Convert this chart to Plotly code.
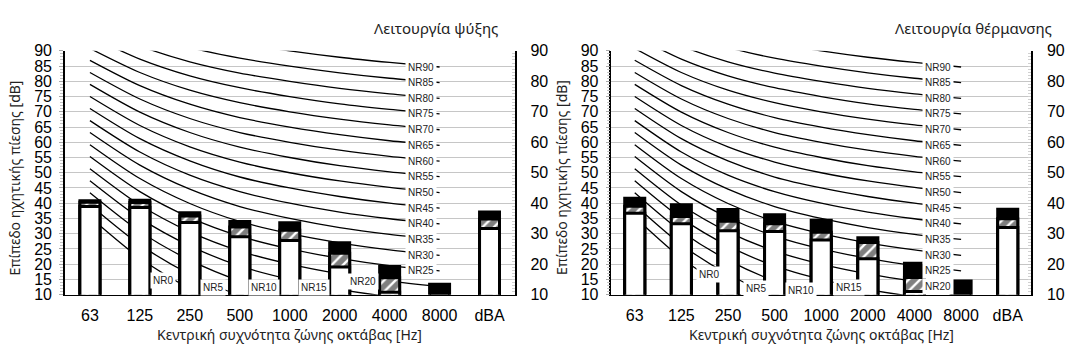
import plotly.graph_objects as go

# Octave-band centre frequencies plus the A-weighted total
bands = ["63", "125", "250", "500", "1000", "2000", "4000", "8000", "dBA"]
octaves = bands[:8]

# Cooling mode: top of black cap, top of hatched band, top of open bar [dB]
cool_total = [40.8, 41.0, 36.9, 34.0, 33.6, 27.0, 19.2, 13.4, 37.1]
cool_hatch = [40.3, 40.2, 35.8, 32.2, 31.1, 23.6, 15.5, 0.0, 34.8]
cool_open = [38.9, 38.6, 33.7, 29.0, 27.8, 19.1, 10.8, 0.0, 31.7]

# Heating mode
heat_total = [41.6, 39.5, 37.9, 36.2, 34.4, 28.7, 20.3, 14.5, 38.0]
heat_hatch = [39.0, 35.6, 34.1, 33.3, 30.5, 27.1, 15.6, 0.0, 34.9]
heat_open = [36.7, 33.3, 31.0, 30.7, 27.9, 21.8, 11.0, 0.0, 32.0]

# Noise Rating curves, 63 Hz ... 8 kHz
nr_00 = [35.5, 22.0, 12.0, 4.8, 0.0, -3.5, -6.1, -8.0]
nr_05 = [39.5, 26.4, 16.7, 9.7, 5.0, 1.6, -1.0, -2.9]
nr_10 = [43.4, 30.7, 21.3, 14.5, 10.0, 6.7, 4.2, 2.3]
nr_15 = [47.4, 35.1, 26.0, 19.4, 15.0, 11.7, 9.3, 7.5]
nr_20 = [51.3, 39.4, 30.6, 24.3, 20.0, 16.8, 14.4, 12.6]
nr_25 = [55.3, 43.8, 35.3, 29.2, 25.0, 21.9, 19.5, 17.8]
nr_30 = [59.2, 48.1, 39.9, 34.0, 30.0, 27.0, 24.7, 22.9]
nr_35 = [63.2, 52.5, 44.6, 38.9, 35.0, 32.0, 29.8, 28.1]
nr_40 = [67.1, 56.8, 49.2, 43.8, 40.0, 37.1, 34.9, 33.2]
nr_45 = [71.1, 61.2, 53.9, 48.6, 45.0, 42.2, 40.0, 38.4]
nr_50 = [75.0, 65.5, 58.5, 53.5, 50.0, 47.3, 45.2, 43.5]
nr_55 = [79.0, 69.9, 63.2, 58.4, 55.0, 52.3, 50.3, 48.7]
nr_60 = [82.9, 74.2, 67.8, 63.2, 60.0, 57.4, 55.4, 53.8]
nr_65 = [86.9, 78.6, 72.5, 68.1, 65.0, 62.5, 60.5, 59.0]
nr_70 = [90.8, 82.9, 77.1, 73.0, 70.0, 67.6, 65.7, 64.1]
nr_75 = [94.8, 87.3, 81.8, 77.9, 75.0, 72.6, 70.8, 69.3]
nr_80 = [98.7, 91.6, 86.4, 82.7, 80.0, 77.7, 75.9, 74.4]
nr_85 = [102.7, 96.0, 91.1, 87.6, 85.0, 82.8, 81.0, 79.6]
nr_90 = [106.6, 100.3, 95.7, 92.5, 90.0, 87.9, 86.2, 84.7]

nr_names = ["NR0", "NR5", "NR10", "NR15", "NR20", "NR25", "NR30", "NR35", "NR40",
            "NR45", "NR50", "NR55", "NR60", "NR65", "NR70", "NR75", "NR80", "NR85", "NR90"]
nr_table = [nr_00, nr_05, nr_10, nr_15, nr_20, nr_25, nr_30, nr_35, nr_40, nr_45,
            nr_50, nr_55, nr_60, nr_65, nr_70, nr_75, nr_80, nr_85, nr_90]

# Where the low curves are tagged inside each panel (band index, level)
cool_low_tags = {"NR0": (1.46, 14.7), "NR5": (2.46, 12.5), "NR10": (3.48, 12.5),
                 "NR15": (4.48, 12.5), "NR20": (5.46, 14.4)}
heat_low_tags = {"NR0": (1.59, 16.7), "NR5": (2.60, 12.1), "NR10": (3.57, 11.5),
                 "NR15": (4.59, 12.3)}
cool_end_tag_x = 6.62
heat_end_tag_x = 6.50

W, H = 1065, 356
PLOT_TOP, PLOT_BOTTOM = 45, 301
panels = [
    dict(x0=65, x1=515, title="Λειτουργία ψύξης", title_right=500, ytitle_x=15,
         total=cool_total, hatch=cool_hatch, open_=cool_open,
         low_tags=cool_low_tags, end_x=cool_end_tag_x, bar_w=0.40),
    dict(x0=612, x1=1032, title="Λειτουργία θέρμανσης", title_right=1055, ytitle_x=562,
         total=heat_total, hatch=heat_hatch, open_=heat_open,
         low_tags=heat_low_tags, end_x=heat_end_tag_x, bar_w=0.43),
]

NUM_FONT = dict(family="Liberation Sans Narrow, Liberation Sans, Arial", size=16, color="black")
TXT_FONT = dict(family="Noto Sans, Open Sans, sans-serif", size=14, color="#222")
TAG_FONT = dict(family="Liberation Sans, Arial", size=10, color="#222")

fig = go.Figure()
layout = dict(
    width=W, height=H, margin=dict(l=0, r=0, t=0, b=0),
    paper_bgcolor="white", plot_bgcolor="white",
    barmode="overlay", showlegend=False, annotations=[],
)
ydom = [(H - PLOT_BOTTOM) / H, (H - PLOT_TOP) / H]


def sfx(n):
    return "" if n == 1 else str(n)


for i, p in enumerate(panels):
    xb = 1 + i            # category axis: 1, 2
    yl = 1 + 2 * i        # left dB axis (curves): 1, 3
    yr = 2 + 2 * i        # right dB axis (bars, drawn on top): 2, 4
    xdom = [p["x0"] / W, p["x1"] / W]

    layout["xaxis" + sfx(xb)] = dict(
        domain=xdom, anchor="y" + sfx(yl), type="category", categoryarray=bands,
        range=[-0.5, 8.5], showline=True, linecolor="black", linewidth=1,
        ticks="", tickfont=NUM_FONT, ticklabelstandoff=6, showgrid=False, zeroline=False,
    )
    layout["yaxis" + sfx(yl)] = dict(
        domain=ydom, anchor="x" + sfx(xb), range=[10, 90], dtick=5,
        showline=True, linecolor="black", linewidth=1.5,
        ticks="outside", ticklen=4, tickcolor="#a8a8a8",
        minor=dict(dtick=1, ticks="outside", ticklen=3, tickcolor="#c4c4c4", showgrid=False),
        showgrid=True, gridcolor="#c6c6c6", gridwidth=1, zeroline=False,
        tickfont=NUM_FONT, ticklabelstandoff=4,
    )
    layout["yaxis" + sfx(yr)] = dict(
        overlaying="y" + sfx(yl), side="right", anchor="x" + sfx(xb),
        range=[10, 90], dtick=10, showline=True, linecolor="black", linewidth=1.5,
        ticks="inside", ticklen=3, tickcolor="#c4c4c4",
        minor=dict(dtick=1, ticks="inside", ticklen=3, tickcolor="#d0d0d0", showgrid=False),
        showgrid=False, zeroline=False, tickfont=NUM_FONT, ticklabelstandoff=11,
    )

    xa, ya, yb = "x" + sfx(xb), "y" + sfx(yl), "y" + sfx(yr)

    # NR curves
    for name, vals in zip(nr_names, nr_table):
        fig.add_trace(go.Scatter(
            x=octaves, y=vals, mode="lines", xaxis=xa, yaxis=ya,
            line=dict(color="black", width=1.3, shape="spline", smoothing=0.8),
            hoverinfo="skip", name=name,
        ))

    # black cap, hatched band and open bar, overlaid
    outline = dict(color="black", width=3)
    fig.add_trace(go.Bar(x=bands, y=p["total"], xaxis=xa, yaxis=yb, width=p["bar_w"],
                         marker=dict(color="black", line=outline), opacity=1))
    fig.add_trace(go.Bar(x=bands, y=p["hatch"], xaxis=xa, yaxis=yb, width=p["bar_w"],
                         marker=dict(color="white", line=outline,
                                     pattern=dict(shape="/", fgcolor="black", bgcolor="white",
                                                  size=8, solidity=0.7)), opacity=1))
    fig.add_trace(go.Bar(x=bands, y=p["open_"], xaxis=xa, yaxis=yb, width=p["bar_w"],
                         marker=dict(color="white", line=outline), opacity=1))

    # curve tags
    for name, vals in zip(nr_names, nr_table):
        if name in p["low_tags"]:
            tx, ty = p["low_tags"][name]
        elif vals[-1] >= 12:
            tx, ty = p["end_x"], vals[-1]
        else:
            continue
        layout["annotations"].append(dict(
            x=tx, y=ty, xref=xa, yref=ya, text=name, showarrow=False,
            font=TAG_FONT, bgcolor="white", borderpad=2,
        ))

    # panel title and axis titles
    layout["annotations"].append(dict(
        x=p["title_right"] / W, y=1 - 21 / H, xref="paper", yref="paper",
        xanchor="right", yanchor="middle", text=p["title"], showarrow=False,
        font=dict(family=TXT_FONT["family"], size=15, color="#222"),
    ))
    layout["annotations"].append(dict(
        x=(p["x0"] + p["x1"]) / 2 / W, y=1 - 343 / H, xref="paper", yref="paper",
        xanchor="center", yanchor="middle", text="Κεντρική συχνότητα ζώνης οκτάβας [Hz]",
        showarrow=False, font=TXT_FONT,
    ))
    layout["annotations"].append(dict(
        x=p["ytitle_x"] / W, y=1 - 178 / H, xref="paper", yref="paper",
        xanchor="center", yanchor="middle", text="Επίπεδο ηχητικής πίεσης [dB]",
        textangle=-90, showarrow=False, font=TXT_FONT,
    ))

fig.update_layout(**layout)
fig.write_html("out.html")
